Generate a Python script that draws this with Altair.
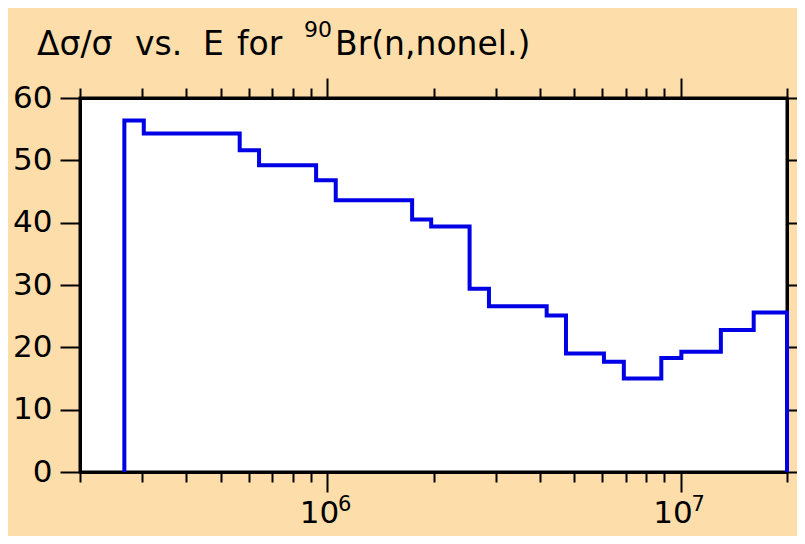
import altair as alt
import pandas as pd

# bin edges (eV) and relative uncertainty (%)
edges = [2.67e5, 3.03e5, 5.66e5, 6.42e5, 9.31e5, 1.058e6, 1.74e6, 1.97e6,
         2.53e6, 2.87e6, 4.18e6, 4.74e6, 6.07e6, 6.91e6, 8.82e6, 1.005e7,
         1.30e7, 1.61e7, 2.0e7]
values = [56.4, 54.3, 51.6, 49.2, 46.8, 43.6, 40.5, 39.4, 29.4, 26.6, 25.1,
          19.0, 17.7, 15.0, 18.3, 19.3, 22.8, 25.6]

x_ticks = [2e5, 3e5, 4e5, 5e5, 6e5, 7e5, 8e5, 9e5, 1e6,
           2e6, 3e6, 4e6, 5e6, 6e6, 7e6, 8e6, 9e6, 1e7, 2e7]
y_ticks = [0, 10, 20, 30, 40, 50, 60]
decades = [1e6, 1e7]
exponents = ["6", "7"]

# title words: "Δσ/σ vs. E for ⁹⁰Br(n,nonel.)"
title_words = ["\u0394\u03c3/\u03c3", "vs.", "E", "for"]
title_sup = "90"
title_rest = "Br(n,nonel.)"

E = [edges[0]] + edges[:-1] + [edges[-1]]
Y = [0] + values + [0]
df = pd.DataFrame({"E": E, "y": Y, "i": list(range(len(E)))})
dec_df = pd.DataFrame({"E": decades, "exp": exponents})

FONT = "DejaVu Sans"
major = "abs(log(datum.value)/LN10 - round(log(datum.value)/LN10)) < 1e-6"
x_label_expr = "abs(datum.value - 1e6) < 1 || abs(datum.value - 1e7) < 1 ? '10' : ''"

common = dict(domainColor="black", domainWidth=3, tickColor="black",
              tickWidth=2, grid=False, title=None, labelFont=FONT,
              labelFontSize=31, labelColor="black")

x_bottom = alt.Axis(orient="bottom", values=x_ticks, labelExpr=x_label_expr,
                    tickSize={"condition": {"test": major, "value": 20}, "value": 10},
                    labelPadding=6, labelOffset=-8, labelFlush=False,
                    labelOverlap=False, **common)
x_top = alt.Axis(orient="top", values=x_ticks, labels=False,
                 tickSize={"condition": {"test": major, "value": 20}, "value": 10},
                 **common)
y_left = alt.Axis(orient="left", values=y_ticks, tickSize=20, labelPadding=8,
                  **common)
y_right = alt.Axis(orient="right", values=y_ticks, tickSize=20, labels=False,
                   **common)

xs = alt.Scale(type="log", domain=[2e5, 2e7], nice=False)
ys = alt.Scale(domain=[0, 60], nice=False)

line = alt.Chart(df).mark_line(
    interpolate="step-after", color="#0000e6", strokeWidth=4
).encode(
    x=alt.X("E:Q", scale=xs, axis=x_bottom),
    y=alt.Y("y:Q", scale=ys, axis=y_left),
    order="i:Q",
)

frame = alt.Chart(df).mark_point(opacity=0).encode(
    x=alt.X("E:Q", scale=xs, axis=x_top),
    y=alt.Y("y:Q", scale=ys, axis=y_right),
)

exp_text = alt.Chart(dec_df).mark_text(
    font=FONT, fontSize=21, align="left", baseline="alphabetic", dx=11,
    color="black", clip=False,
).encode(
    x=alt.X("E:Q", scale=xs, axis=None),
    y=alt.value(413),
    text="exp:N",
)

def title_piece(txt, x, y, size):
    return alt.Chart(pd.DataFrame({"t": [txt]})).mark_text(
        font=FONT, fontSize=size, align="left", baseline="alphabetic",
        color="black", clip=False,
    ).encode(x=alt.value(x), y=alt.value(y), text="t:N")

word_x = [-43, 55, 123, 157]
pieces = [title_piece(w, x, -43, 33) for w, x in zip(title_words, word_x)]
pieces.append(title_piece(title_sup, 224, -61, 22))
pieces.append(title_piece(title_rest, 255, -43, 33))

chart = alt.layer(line, frame, exp_text, *pieces).resolve_axis(
    x="independent", y="independent"
).properties(
    width=707,
    height=374,
    autosize=alt.AutoSizeParams(type="none"),
    padding={"left": 72, "top": 90, "right": 10, "bottom": 64},
    background="#fddeaa",
).configure_view(stroke="black", strokeWidth=3, fill="white")

chart.save("out.html", embed_options={"renderer": "svg", "actions": False})
